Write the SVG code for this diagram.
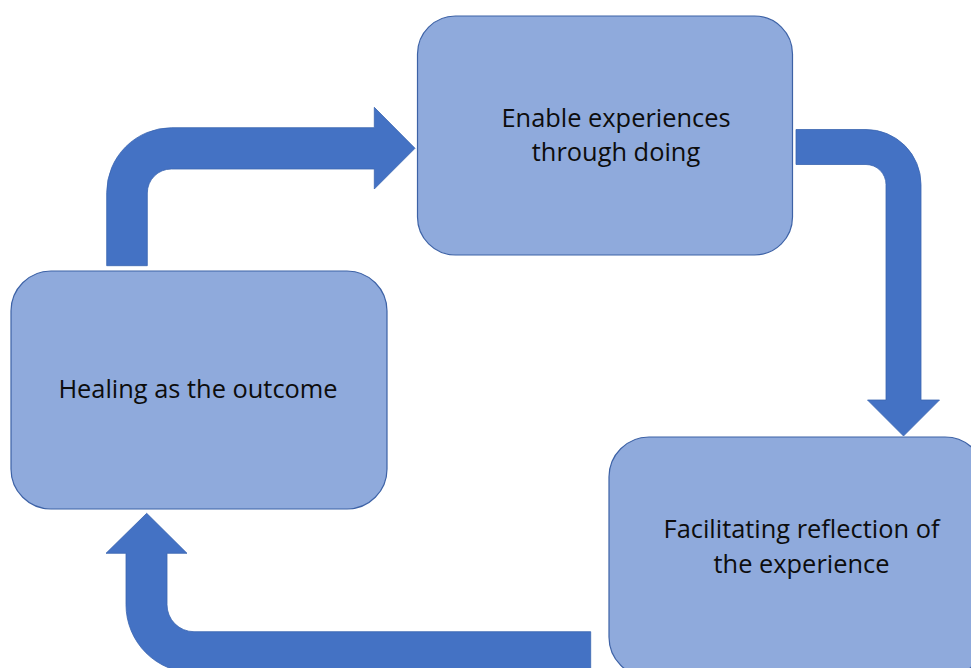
<svg xmlns="http://www.w3.org/2000/svg" width="971" height="668" viewBox="0 0 971 668">
  <style>
    .box { fill: #8faadc; stroke: #3d62a6; stroke-width: 1.2; }
    .arrow { fill: #4472c4; stroke: #3a64b0; stroke-width: 0.8; }
    .label { font-family: "Open Sans", "Noto Sans", "Liberation Sans", sans-serif; font-size: 25.4px; fill: #0d0d0d; text-anchor: middle; }
  </style>
  <rect width="971" height="668" fill="#ffffff"/>

  <g id="connectors">
    <path class="arrow" d="M106.7,265.7 V192.7 A65,65 0 0 1 171.7,127.7 H374.3 V107.3 L415,148.3 L374.3,189 V169 H171.3 A24,24 0 0 0 147.3,193 V265.7 Z"/>
    <path class="arrow" d="M796,129.5 H866 A55,55 0 0 1 921,184.5 V400 H939.5 L903.5,436 L867.5,400 H886 V184.5 A20,20 0 0 0 866,164.5 H796 Z"/>
    <path class="arrow" d="M590.7,631.7 H194 A27,27 0 0 1 167,604.7 V553.3 H187 L146.7,513.3 L106,553.3 H126 V604.7 A68,68 0 0 0 194,672.7 H590.7 Z"/>
  </g>

  <g id="node-enable">
    <rect class="box" x="417.5" y="16" width="375" height="239" rx="38"/>
    <text class="label" x="616" y="127">Enable experiences</text>
    <text class="label" x="616" y="161">through doing</text>
  </g>

  <g id="node-healing">
    <rect class="box" x="11" y="271" width="376" height="238" rx="40"/>
    <text class="label" x="198" y="398">Healing as the outcome</text>
  </g>

  <g id="node-facilitating">
    <rect class="box" x="609" y="437" width="376" height="240" rx="40"/>
    <text class="label" x="801.5" y="538">Facilitating reflection of</text>
    <text class="label" x="801.5" y="573">the experience</text>
  </g>
</svg>
